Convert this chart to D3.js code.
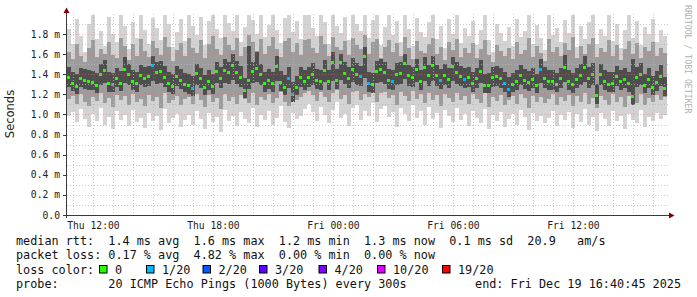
<!DOCTYPE html>
<html><head><meta charset="utf-8">
<script src="https://cdn.jsdelivr.net/npm/d3@7/dist/d3.min.js"></script>
<style>body{margin:0;background:#fff}svg{display:block}</style>
</head><body><svg id="c" width="697" height="297"></svg>
<script>
// ---- data (ms) : 150 consolidated steps of 12 minutes ----
const startTime = new Date(2025, 11, 18, 10, 40, 45);
const stepMinutes = 12;

const median = [1.37,1.31,1.28,1.36,1.34,1.33,1.32,1.29,1.40,1.44,
1.31,1.30,1.36,1.31,1.45,1.40,1.33,1.31,1.39,1.36,
1.38,1.49,1.42,1.43,1.37,1.31,1.28,1.38,1.34,1.30,
1.29,1.26,1.41,1.36,1.27,1.33,1.28,1.43,1.36,1.44,
1.42,1.49,1.42,1.37,1.24,1.34,1.43,1.46,1.40,1.31,
1.34,1.31,1.48,1.32,1.27,1.36,1.20,1.27,1.37,1.33,
1.37,1.40,1.34,1.33,1.44,1.33,1.52,1.34,1.52,1.41,
1.36,1.45,1.40,1.38,1.58,1.31,1.30,1.43,1.45,1.42,
1.34,1.33,1.40,1.41,1.51,1.39,1.37,1.45,1.33,1.47,
1.39,1.49,1.39,1.34,1.39,1.35,1.48,1.42,1.38,1.35,
1.37,1.31,1.36,1.43,1.29,1.29,1.37,1.38,1.36,1.31,
1.25,1.30,1.33,1.39,1.34,1.32,1.35,1.29,1.45,1.36,
1.33,1.33,1.30,1.36,1.47,1.33,1.30,1.35,1.39,1.47,
1.36,1.40,1.19,1.40,1.33,1.30,1.31,1.38,1.33,1.35,
1.31,1.18,1.37,1.40,1.29,1.35,1.27,1.32,1.38,1.26];

const maxRtt = [1.85,1.70,1.95,1.78,1.62,1.90,1.99,1.75,1.83,1.68,
1.97,1.80,1.72,1.99,1.88,1.65,1.92,1.76,1.99,1.84,
1.70,1.96,1.86,1.74,1.99,1.90,1.67,1.82,1.95,1.73,
1.99,1.88,1.79,1.97,1.69,1.93,1.99,1.85,1.76,1.99,
1.91,1.83,1.99,1.72,1.87,1.99,1.94,1.80,1.99,1.77,
1.89,1.99,1.84,1.71,1.96,1.99,1.82,1.93,1.75,1.99,
1.99,1.86,1.78,1.99,1.92,1.70,1.99,1.88,1.81,1.97,
1.74,1.99,1.90,1.83,1.99,1.76,1.94,1.99,1.69,1.87,
1.99,1.79,1.93,1.72,1.99,1.85,1.68,1.96,1.82,1.77,
1.92,1.99,1.75,1.88,1.66,1.95,1.80,1.99,1.71,1.86,
1.78,1.93,1.69,1.84,1.99,1.74,1.62,1.90,1.81,1.73,
1.87,1.68,1.95,1.77,1.83,1.99,1.70,1.89,1.76,1.64,
1.99,1.79,1.86,1.72,1.94,1.81,1.99,1.67,1.88,1.75,
1.92,1.99,1.70,1.85,1.78,1.99,1.73,1.90,1.66,1.84,
1.99,1.76,1.93,1.69,1.87,1.80,1.95,1.72,1.84,1.78];

const minRtt = [0.98,1.02,0.92,1.05,0.95,0.88,1.00,0.93,1.06,0.90,
0.97,0.86,1.03,0.94,0.99,0.89,1.04,0.92,0.96,0.87,
1.01,0.93,0.98,0.85,1.05,0.91,0.96,1.00,0.88,0.94,
0.99,0.90,1.03,0.95,0.86,1.01,0.92,0.97,0.83,1.04,
0.93,0.98,0.89,1.02,0.95,0.91,1.06,0.88,0.99,0.94,
1.03,0.90,0.96,1.08,0.92,0.87,1.01,0.95,0.98,1.05,
1.10,1.02,0.93,1.07,0.99,0.91,1.04,1.12,0.96,1.00,
0.89,1.06,1.09,0.94,1.03,0.98,1.11,0.92,1.05,1.08,
0.97,1.02,0.88,1.06,1.00,0.93,1.09,0.96,1.03,0.90,
1.07,0.95,1.01,0.87,1.04,0.98,0.92,1.06,0.94,1.00,
0.89,1.03,0.96,0.91,1.05,0.86,0.99,0.93,1.02,0.88,
0.95,1.00,0.90,1.04,0.97,0.85,1.01,0.93,0.98,0.91,
0.96,1.03,0.89,0.99,0.94,1.02,0.87,1.00,0.92,1.05,
0.90,0.97,0.84,1.01,0.95,0.89,1.03,0.93,0.98,0.86,
1.00,0.94,0.91,1.04,0.88,0.97,0.93,1.01,0.95,0.99];

const lowMid = [1.15,1.18,1.10,1.20,1.12,1.08,1.17,1.13,1.21,1.11,
1.16,1.07,1.19,1.14,1.18,1.09,1.20,1.12,1.15,1.08,
1.19,1.13,1.17,1.06,1.21,1.11,1.14,1.18,1.09,1.15,
1.17,1.10,1.20,1.14,1.07,1.19,1.12,1.16,1.05,1.20,
1.13,1.17,1.10,1.19,1.15,1.11,1.21,1.09,1.17,1.14,
1.20,1.11,1.16,1.22,1.12,1.08,1.19,1.14,1.17,1.21,
1.23,1.19,1.13,1.22,1.17,1.12,1.21,1.24,1.15,1.19,
1.10,1.22,1.23,1.14,1.20,1.17,1.24,1.12,1.21,1.22,
1.16,1.19,1.09,1.22,1.18,1.13,1.23,1.15,1.20,1.11,
1.21,1.14,1.19,1.08,1.20,1.16,1.12,1.21,1.14,1.18,
1.10,1.20,1.15,1.11,1.21,1.07,1.17,1.13,1.19,1.09,
1.14,1.18,1.10,1.20,1.16,1.06,1.18,1.12,1.17,1.11,
1.15,1.20,1.09,1.17,1.13,1.19,1.08,1.18,1.12,1.21,
1.10,1.16,1.06,1.18,1.14,1.09,1.20,1.12,1.17,1.07,
1.18,1.13,1.11,1.20,1.09,1.16,1.12,1.19,1.14,1.17];

const highMid = [1.62,1.55,1.70,1.58,1.52,1.66,1.74,1.57,1.65,1.60,
1.72,1.59,1.56,1.76,1.68,1.54,1.70,1.58,1.75,1.63,
1.57,1.73,1.66,1.59,1.77,1.67,1.53,1.64,1.71,1.58,
1.76,1.66,1.61,1.74,1.56,1.70,1.78,1.65,1.59,1.77,
1.69,1.64,1.76,1.58,1.67,1.79,1.72,1.63,1.75,1.60,
1.68,1.77,1.65,1.57,1.73,1.76,1.62,1.71,1.59,1.74,
1.75,1.66,1.61,1.78,1.70,1.58,1.77,1.67,1.64,1.73,
1.59,1.76,1.69,1.65,1.79,1.60,1.72,1.75,1.56,1.67,
1.74,1.62,1.71,1.58,1.77,1.66,1.55,1.73,1.63,1.61,
1.70,1.76,1.60,1.67,1.54,1.72,1.64,1.75,1.57,1.66,
1.61,1.71,1.56,1.65,1.74,1.59,1.52,1.69,1.63,1.58,
1.66,1.55,1.72,1.60,1.64,1.76,1.57,1.68,1.61,1.53,
1.75,1.62,1.67,1.58,1.71,1.64,1.77,1.56,1.68,1.60,
1.70,1.76,1.57,1.66,1.62,1.74,1.58,1.69,1.54,1.65,
1.73,1.60,1.71,1.56,1.67,1.63,1.72,1.58,1.66,1.61];

const lowCore = [1.27,1.23,1.20,1.27,1.25,1.24,1.24,1.21,1.29,1.31,
1.22,1.22,1.27,1.23,1.31,1.29,1.24,1.22,1.29,1.27,
1.28,1.33,1.30,1.31,1.27,1.22,1.20,1.28,1.25,1.22,
1.20,1.18,1.29,1.26,1.19,1.24,1.20,1.31,1.26,1.31,
1.30,1.34,1.30,1.27,1.16,1.25,1.31,1.32,1.29,1.22,
1.25,1.22,1.33,1.23,1.19,1.26,1.12,1.19,1.27,1.24,
1.27,1.29,1.25,1.24,1.32,1.24,1.33,1.25,1.34,1.30,
1.26,1.32,1.29,1.28,1.36,1.22,1.21,1.31,1.32,1.30,
1.25,1.24,1.29,1.30,1.35,1.28,1.27,1.32,1.24,1.33,
1.28,1.33,1.28,1.25,1.29,1.26,1.33,1.30,1.28,1.26,
1.27,1.22,1.26,1.31,1.21,1.21,1.27,1.28,1.26,1.22,
1.17,1.22,1.24,1.29,1.25,1.23,1.26,1.21,1.31,1.26,
1.24,1.24,1.22,1.26,1.32,1.24,1.21,1.26,1.29,1.32,
1.26,1.29,1.10,1.29,1.24,1.22,1.22,1.28,1.24,1.26,
1.22,1.09,1.27,1.29,1.21,1.26,1.19,1.23,1.28,1.18];

const highCore = [1.47,1.42,1.40,1.46,1.45,1.44,1.43,1.41,1.50,1.54,
1.42,1.41,1.46,1.43,1.57,1.50,1.44,1.42,1.49,1.47,
1.48,1.58,1.52,1.53,1.48,1.42,1.40,1.48,1.45,1.41,
1.40,1.38,1.50,1.46,1.39,1.44,1.40,1.52,1.47,1.55,
1.52,1.60,1.53,1.48,1.36,1.68,1.52,1.62,1.50,1.42,
1.45,1.42,1.58,1.43,1.39,1.47,1.32,1.38,1.47,1.44,
1.47,1.51,1.45,1.44,1.54,1.44,1.62,1.45,1.60,1.52,
1.47,1.56,1.51,1.48,1.67,1.42,1.41,1.53,1.55,1.52,
1.45,1.44,1.51,1.52,1.60,1.49,1.47,1.55,1.44,1.57,
1.49,1.58,1.49,1.45,1.50,1.46,1.57,1.52,1.48,1.46,
1.47,1.42,1.46,1.54,1.40,1.41,1.47,1.48,1.46,1.42,
1.37,1.41,1.44,1.49,1.45,1.43,1.46,1.40,1.55,1.47,
1.44,1.44,1.41,1.46,1.59,1.44,1.41,1.46,1.50,1.58,
1.47,1.51,1.30,1.50,1.44,1.42,1.42,1.48,1.44,1.46,
1.42,1.55,1.47,1.51,1.40,1.46,1.38,1.43,1.49,1.37];

const lostPings = [0,0,0,0,0,0,0,0,0,0, 0,1,0,0,0,0,0,0,0,0,
0,1,0,0,0,0,0,0,0,0, 0,1,0,0,0,0,0,0,0,0, 0,0,0,0,0,0,0,0,0,0,
0,0,0,0,0,1,1,0,0,0, 0,0,0,0,0,0,0,0,0,0, 0,0,0,1,0,1,0,0,0,0,
0,1,0,0,0,0,0,0,0,0, 0,0,0,1,0,0,0,0,0,1, 0,0,0,0,0,0,0,0,0,1,
1,0,0,0,0,0,0,0,1,0, 0,0,0,0,0,0,0,0,0,0, 0,0,0,0,0,0,0,0,0,0,
0,0,0,0,0,0,0,0,0,0];

const lossLevels = [0, 1, 2, 3, 4, 10, 19];
const lossLabels = ["0", "1/20", "2/20", "3/20", "4/20", "10/20", "19/20"];
const lossColors = ["#26ff00", "#00b8ff", "#0059ff", "#5e00ff", "#7e00ff", "#dd00ff", "#ff0000"];

const yTickValues = [0, 0.2, 0.4, 0.6, 0.8, 1.0, 1.2, 1.4, 1.6, 1.8];
const yTickLabels = ["0.0", "0.2 m", "0.4 m", "0.6 m", "0.8 m", "1.0 m", "1.2 m", "1.4 m", "1.6 m", "1.8 m"];

const legendLines = [
  "median rtt:  1.4 ms avg  1.6 ms max  1.2 ms min  1.3 ms now  0.1 ms sd  20.9   am/s",
  "packet loss: 0.17 % avg  4.82 % max  0.00 % min  0.00 % now"
];
const probeText = "probe:       20 ICMP Echo Pings (1000 Bytes) every 300s";
const endText = "end: Fri Dec 19 16:40:45 2025";

// ---- drawing ----
const svg = d3.select("#c");
const mono = "'DejaVu Sans Mono', monospace";
const keepSpaces = s => s.replace(/ /g, "\u00a0");
const n = median.length;
const endTime = d3.timeMinute.offset(startTime, n * stepMinutes);
const times = d3.range(n + 1).map(i => d3.timeMinute.offset(startTime, i * stepMinutes));

const x = d3.scaleTime().domain([startTime, endTime]).range([67, 667]);
const y = d3.scaleLinear().domain([0, 2.0]).range([215, 13.9]);

const plot = svg.append("g").attr("shape-rendering", "crispEdges");
const bands = [
  {lo: minRtt, hi: maxRtt, color: "#d3d3d3"},
  {lo: lowMid, hi: highMid, color: "#9c9c9c"},
  {lo: lowCore, hi: highCore, color: "#4e4e4e"}
];
bands.forEach(b => {
  plot.append("g").selectAll("rect").data(d3.range(n)).join("rect")
    .attr("x", i => Math.round(x(times[i])))
    .attr("width", i => Math.round(x(times[i + 1])) - Math.round(x(times[i])))
    .attr("y", i => Math.round(y(Math.min(2.0, b.hi[i]))))
    .attr("height", i => Math.round(y(b.lo[i])) - Math.round(y(Math.min(2.0, b.hi[i]))))
    .attr("fill", b.color);
});

// grid
const grid = svg.append("g");
const minorY = d3.range(1, 20).map(k => k / 10).filter(v => Math.round(v * 10) % 2 === 1);
grid.selectAll(".hmin").data(minorY).join("line")
  .attr("x1", 67).attr("x2", 668)
  .attr("y1", d => Math.round(y(d)) + 0.5).attr("y2", d => Math.round(y(d)) + 0.5)
  .attr("stroke", "#b8b8b8").attr("stroke-opacity", 0.75).attr("stroke-dasharray", "1,2");
grid.selectAll(".hmaj").data(yTickValues.slice(1)).join("line")
  .attr("x1", 67).attr("x2", 668)
  .attr("y1", d => Math.round(y(d)) + 0.5).attr("y2", d => Math.round(y(d)) + 0.5)
  .attr("stroke", "#ff6060").attr("stroke-opacity", 0.45).attr("stroke-dasharray", "1,2");
const hours = d3.timeHour.range(startTime, endTime);
grid.selectAll(".vg").data(hours).join("line")
  .attr("x1", d => Math.round(x(d)) + 0.5).attr("x2", d => Math.round(x(d)) + 0.5)
  .attr("y1", 14).attr("y2", 215)
  .attr("stroke", d => d.getHours() % 3 === 0 ? "#ff6060" : "#b8b8b8")
  .attr("stroke-opacity", d => d.getHours() % 3 === 0 ? 0.45 : 0.75)
  .attr("stroke-dasharray", "1,2");

// median
const lossColor = c => { let k = 0; lossLevels.forEach((l, j) => { if (c >= l) k = j; }); return lossColors[k]; };
plot.append("g").selectAll("rect").data(d3.range(n)).join("rect")
  .attr("x", i => Math.round(x(times[i])))
  .attr("width", i => Math.round(x(times[i + 1])) - Math.round(x(times[i])) - 1)
  .attr("y", i => Math.round(y(median[i])) - 1)
  .attr("height", 3)
  .attr("fill", i => lossColor(lostPings[i]));

// axes
const axisColor = "#3a3a3a";
svg.append("line").attr("x1", 66.5).attr("x2", 66.5).attr("y1", 12).attr("y2", 218).attr("stroke", axisColor);
svg.append("line").attr("x1", 63).attr("x2", 670).attr("y1", 215.5).attr("y2", 215.5).attr("stroke", axisColor);
svg.append("path").attr("d", "M63.5,13 L66.5,7.5 L69.5,13 Z").attr("fill", "#7f0000");
svg.append("path").attr("d", "M669,212.5 L674.5,215.5 L669,218.5 Z").attr("fill", "#7f0000");

const yAxisG = svg.append("g");
yAxisG.selectAll("line").data(yTickValues).join("line")
  .attr("x1", 63).attr("x2", 66).attr("y1", d => Math.round(y(d)) + 0.5).attr("y2", d => Math.round(y(d)) + 0.5)
  .attr("stroke", axisColor);
yAxisG.selectAll("text").data(yTickValues).join("text")
  .attr("x", 60).attr("y", d => y(d) + 3.6)
  .attr("text-anchor", "end").attr("font-family", mono).attr("font-size", "9.7px").attr("fill", "#222")
  .text((d, i) => keepSpaces(yTickLabels[i]));

const xLabelTimes = hours.filter(d => d.getHours() % 6 === 0);
const fmt = d3.timeFormat("%a %H:%M");
svg.append("g").selectAll("text").data(xLabelTimes).join("text")
  .attr("x", d => x(d)).attr("y", 228.5)
  .attr("text-anchor", "middle").attr("font-family", mono).attr("font-size", "9.7px").attr("fill", "#222")
  .text(d => keepSpaces(fmt(d)));

// y title
svg.append("text").attr("transform", "translate(14,114) rotate(-90)")
  .attr("text-anchor", "middle").attr("font-family", "'DejaVu Sans', sans-serif").attr("font-size", "11.5px").attr("fill", "#222")
  .text("Seconds");

// watermark
svg.append("text").attr("transform", "translate(685,5) rotate(90)")
  .attr("font-family", mono).attr("font-size", "8.2px").attr("fill", "#b0b0b0")
  .text(keepSpaces("RRDTOOL / TOBI OETIKER"));

// legend
const lg = svg.append("g").attr("font-family", mono).attr("font-size", "11.8px").attr("fill", "#111");
lg.selectAll(".ll").data(legendLines).join("text")
  .attr("x", 16).attr("y", (d, i) => 245 + i * 14.3).text(d => keepSpaces(d));
lg.append("text").attr("x", 16).attr("y", 273.6).text("loss color:");
const boxX = [99.5, 146.5, 203, 259.5, 319, 377.5, 442.5];
lossLabels.forEach((lab, i) => {
  lg.append("rect").attr("x", boxX[i]).attr("y", 265.5).attr("width", 7.5).attr("height", 7.5)
    .attr("fill", lossColors[i]).attr("stroke", "#000").attr("stroke-width", 1);
  lg.append("text").attr("x", boxX[i] + 15.5).attr("y", 273.6).text(lab);
});
lg.append("text").attr("x", 16).attr("y", 287.8).text(keepSpaces(probeText));
lg.append("text").attr("x", 681).attr("y", 287.8).attr("text-anchor", "end").text(keepSpaces(endText));
</script>
</body></html>
